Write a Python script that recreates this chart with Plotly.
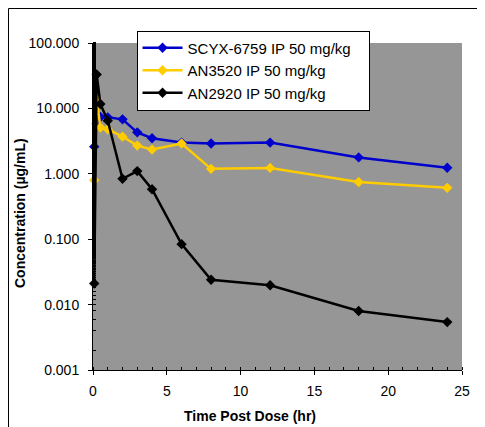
import plotly.graph_objects as go

time_hr = [0.083, 0.25, 0.5, 1, 2, 3, 4, 6, 8, 12, 18, 24]
scyx_6759 = [2.6, 5.8, 7.4, 7.3, 6.8, 4.3, 3.5, 3.0, 2.9, 3.0, 1.78, 1.24]
an3520 = [0.80, 14.0, 5.1, 4.8, 3.7, 2.7, 2.35, 2.9, 1.19, 1.23, 0.75, 0.61]
an2920 = [0.021, 33.0, 11.7, 6.5, 0.84, 1.1, 0.58, 0.084, 0.024, 0.0198, 0.0080, 0.0054]

series_names = ["SCYX-6759 IP 50 mg/kg", "AN3520 IP 50 mg/kg", "AN2920 IP 50 mg/kg"]
series_vals = [scyx_6759, an3520, an2920]
colors = ["#0000CC", "#FFCC00", "#000000"]

ytick_vals = [0.001, 0.01, 0.1, 1, 10, 100]
ytick_text = ["0.001", "0.010", "0.100", "1.000", "10.000", "100.000"]

font = "Liberation Sans, Arial, sans-serif"
pad = "\u00a0\u00a0\u00a0"

fig = go.Figure()
for i, (name, vals, c) in enumerate(zip(series_names, series_vals, colors)):
    fig.add_trace(go.Scatter(
        x=time_hr, y=vals, name=name + pad, mode="lines+markers",
        line=dict(color=c, width=2.5),
        marker=dict(symbol="diamond", size=8, color=c),
        legendgroup=f"g{i}", cliponaxis=False,
    ))

fig.update_layout(
    width=477, height=419,
    margin=dict(l=85, r=23, t=35, b=57),
    paper_bgcolor="white",
    plot_bgcolor="#969696",
    font=dict(family=font, size=14, color="black"),
    showlegend=True,
    legend=dict(
        x=0.118, y=1.038, xanchor="left", yanchor="top",
        bgcolor="white", bordercolor="black", borderwidth=1,
        font=dict(size=15), tracegroupgap=0, itemwidth=40,
    ),
    xaxis=dict(
        range=[0, 25], dtick=5, tick0=0, showgrid=False, zeroline=False,
        showline=True, linecolor="black", linewidth=1,
        ticks="outside", ticklen=4, tickcolor="black",
        minor=dict(dtick=1, ticks="inside", ticklen=3, tickcolor="black", showgrid=False),
        tickfont=dict(size=14), ticklabelstandoff=4,
    ),
    yaxis=dict(
        type="log", range=[-3, 2], tickvals=ytick_vals, ticktext=ytick_text,
        showgrid=False, zeroline=False,
        showline=True, linecolor="black", linewidth=1,
        ticks="outside", ticklen=4, tickcolor="black",
        minor=dict(ticks="inside", ticklen=3, tickcolor="black", showgrid=False),
        tickfont=dict(size=14), ticklabelstandoff=6,
    ),
    annotations=[
        dict(text="<b>Time Post Dose (hr)</b>", xref="paper", yref="paper",
             x=(250 - 93) / 369, y=(370 - 416) / 327, xanchor="center", yanchor="middle",
             showarrow=False, font=dict(size=14)),
        dict(text="<b>Concentration (µg/mL)</b>", xref="paper", yref="paper",
             x=(20 - 93) / 369, y=(370 - 213) / 327, xanchor="center", yanchor="middle",
             textangle=-90, showarrow=False, font=dict(size=14)),
    ],
    shapes=[
        dict(type="rect", xref="paper", yref="paper",
             x0=(8.5 - 93) / 369, x1=(500 - 93) / 369,
             y0=(370 - 440) / 327, y1=(370 - 8.5) / 327,
             line=dict(color="black", width=1), fillcolor="rgba(0,0,0,0)", layer="below"),
    ],
)

fig.write_html("out.html")
